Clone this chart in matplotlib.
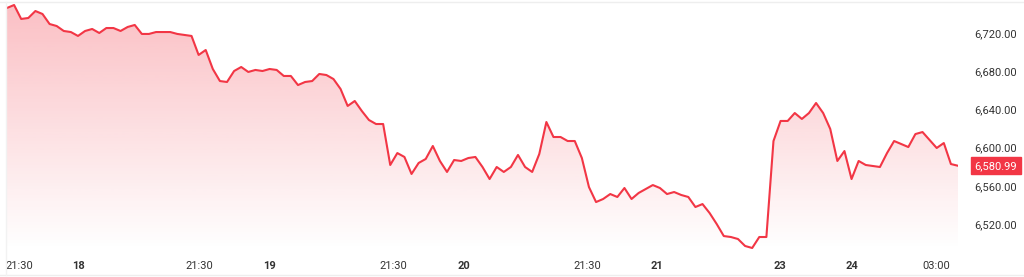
import numpy as np
import matplotlib
matplotlib.use('Agg')
import matplotlib.pyplot as plt
from matplotlib.patches import Polygon
from matplotlib.lines import Line2D

# values (one point per bar)
prices = [
    6746.2, 6749.3, 6734.7, 6735.7, 6743.0, 6739.9, 6729.4, 6727.3, 6722.1, 6721.0,
    6716.9, 6722.1, 6724.2, 6720.0, 6725.2, 6725.2, 6722.1, 6726.3, 6728.4, 6719.0,
    6719.0, 6721.0, 6721.0, 6721.0, 6719.0, 6717.9, 6716.9, 6697.0, 6702.2, 6682.3,
    6669.7, 6668.7, 6680.2, 6684.4, 6679.2, 6681.3, 6680.2, 6682.3, 6681.3, 6675.0,
    6675.0, 6665.5, 6668.7, 6669.7, 6677.1, 6676.0, 6671.8, 6661.4, 6643.6, 6648.8,
    6638.3, 6628.9, 6624.7, 6624.7, 6581.8, 6594.3, 6590.2, 6572.4, 6583.9, 6588.1,
    6601.7, 6586.0, 6574.5, 6587.0, 6586.0, 6589.1, 6590.2, 6579.7, 6567.1, 6579.7,
    6574.5, 6579.7, 6592.3, 6579.7, 6574.5, 6593.3, 6626.8, 6611.1, 6611.1, 6606.9,
    6606.9, 6589.1, 6558.7, 6543.0, 6546.2, 6551.4, 6548.3, 6557.7, 6546.2, 6552.5,
    6556.6, 6560.8, 6557.7, 6551.4, 6553.5, 6550.4, 6548.3, 6537.8, 6540.9, 6531.5,
    6520.0, 6507.4, 6506.4, 6504.3, 6497.0, 6494.9, 6506.4, 6506.4, 6606.9, 6627.9,
    6627.9, 6636.2, 6630.0, 6636.2, 6646.7, 6636.2, 6619.5, 6586.0, 6596.4, 6567.1,
    6586.0, 6581.8, 6580.7, 6579.7, 6594.3, 6606.9, 6603.8, 6600.6, 6614.2, 6616.3,
    6608.0, 6599.6, 6604.8, 6582.8, 6580.99,
]
tick_pos = [1.8, 10.1, 27.1, 37.05, 54.5, 64.45, 81.8, 91.6, 108.9, 119.0, 131.0]
tick_labels = ['21:30', '18', '21:30', '19', '21:30', '20', '21:30', '21', '23', '24', '03:00']
day_ticks = ['18', '19', '20', '21', '23', '24']
y_ticks = [6520, 6560, 6600, 6640, 6680, 6720]
last_price = prices[-1]

red = '#F23645'
W, H = 1024, 277
fig = plt.figure(figsize=(W / 100, H / 100), dpi=100)
ax = fig.add_axes([7 / W, (H - 250) / H, (958 - 7) / W, 247 / H])

x = np.arange(len(prices))
y = np.array(prices)
ylo, yhi = 6492.8, 6751.4
ax.set_xlim(0, len(prices) - 1)
ax.set_ylim(ylo, yhi)

# gradient area under the line
grad = np.linspace(0.0, 0.32, 256).reshape(-1, 1)
rgba = np.zeros((256, 1, 4))
rgba[..., 0], rgba[..., 1], rgba[..., 2] = 242 / 255, 54 / 255, 69 / 255
rgba[..., 3] = grad
img = ax.imshow(rgba, aspect='auto', origin='lower',
                extent=[0, len(prices) - 1, ylo, yhi], zorder=1)
poly = Polygon(np.column_stack([np.r_[x, x[-1], x[0]], np.r_[y, ylo, ylo]]),
               closed=True, facecolor='none', edgecolor='none')
ax.add_patch(poly)
img.set_clip_path(poly)

ax.plot(x, y, color=red, lw=1.5, zorder=3, solid_joinstyle='round')

for s in ax.spines.values():
    s.set_visible(False)
ax.set_facecolor('none')

ax.yaxis.tick_right()
ax.set_yticks(y_ticks)
ax.set_yticklabels([f'{v:,.2f}' for v in y_ticks])
ax.tick_params(axis='y', length=0, pad=12, labelsize=8, labelcolor='#333333')
for lab in ax.get_yticklabels():
    lab.set_fontfamily('Roboto')

ax.set_xticks(tick_pos)
ax.set_xticklabels(tick_labels)
ax.tick_params(axis='x', length=0, pad=8, labelsize=8, labelcolor='#333333')
for lab in ax.get_xticklabels():
    lab.set_fontfamily('Roboto')
    if lab.get_text() in day_ticks:
        lab.set_fontweight('bold')

# last price badge
ax.annotate(f'{last_price:,.2f}', xy=(1.0, last_price), xycoords=('axes fraction', 'data'),
            xytext=(12, 0), textcoords='offset points', ha='left', va='center',
            fontsize=8, family='Roboto', color='white',
            bbox=dict(boxstyle='square,pad=0.3', fc=red, ec=red))

# container border lines
fig.add_artist(Line2D([0, 1], [1 - 2 / H, 1 - 2 / H], color='#EEEEEE', lw=1))
fig.add_artist(Line2D([0, 1], [2 / H, 2 / H], color='#EEEEEE', lw=1))
fig.add_artist(Line2D([6 / W, 6 / W], [2 / H, 1 - 2 / H], color='#F2F2F2', lw=1))

fig.savefig('out.png', dpi=100)
